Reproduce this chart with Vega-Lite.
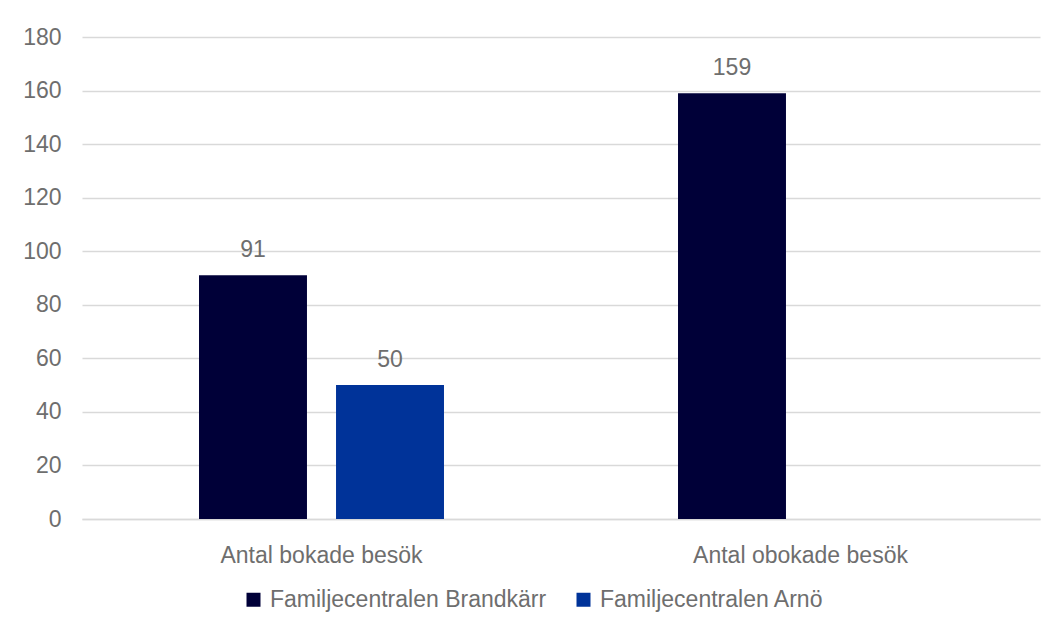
{
  "$schema": "https://vega.github.io/schema/vega-lite/v6.json",
  "width": 958,
  "height": 482,
  "autosize": {"type": "none"},
  "padding": {"left": 82, "top": 37, "right": 16, "bottom": 102},
  "background": "white",
  "config": {
    "font": "Liberation Sans",
    "view": {"stroke": null},
    "axis": {"labelFont": "Liberation Sans", "labelColor": "#6e6e6e", "labelFontSize": 23, "labelLimit": 600}
  },
  "data": {
    "values": [
      {"kategori": "Antal bokade besök", "enhet": "Familjecentralen Brandkärr", "antal": 91},
      {"kategori": "Antal bokade besök", "enhet": "Familjecentralen Arnö", "antal": 50},
      {"kategori": "Antal obokade besök", "enhet": "Familjecentralen Brandkärr", "antal": 159}
    ]
  },
  "encoding": {
    "x": {
      "field": "kategori", "type": "nominal",
      "scale": {"paddingInner": 0, "paddingOuter": 0},
      "axis": {"title": null, "labelAngle": 0, "ticks": false, "labelPadding": 25, "domainColor": "#d9d9d9", "domainWidth": 1.3, "grid": false}
    },
    "xOffset": {
      "field": "enhet", "type": "nominal",
      "scale": {"domain": ["Familjecentralen Brandkärr", "Familjecentralen Arnö"], "paddingInner": 0.212, "paddingOuter": 0.854}
    },
    "y": {
      "field": "antal", "type": "quantitative",
      "scale": {"domain": [0, 180]},
      "axis": {"title": null, "values": [0, 20, 40, 60, 80, 100, 120, 140, 160, 180], "ticks": false, "domain": false, "labelPadding": 21, "gridColor": "#d9d9d9", "gridWidth": 1.3}
    }
  },
  "layer": [
    {
      "mark": {"type": "bar"},
      "encoding": {
        "color": {
          "field": "enhet", "type": "nominal",
          "scale": {"domain": ["Familjecentralen Brandkärr", "Familjecentralen Arnö"], "range": ["#000038", "#003399"]},
          "legend": {
            "title": null,
            "orient": "none",
            "direction": "horizontal",
            "legendX": 160,
            "legendY": 551,
            "padding": 0,
            "symbolType": "square",
            "symbolSize": 196,
            "symbolStrokeWidth": 0,
            "symbolOpacity": 1,
            "labelFont": "Liberation Sans",
            "labelFontSize": 23,
            "labelColor": "#6e6e6e",
            "labelOffset": 5,
            "columnPadding": 25,
            "labelLimit": 600
          }
        }
      }
    },
    {
      "mark": {"type": "text", "baseline": "alphabetic", "dy": -18, "fontSize": 23, "color": "#6e6e6e", "font": "Liberation Sans"},
      "encoding": {"text": {"field": "antal", "type": "quantitative"}}
    }
  ]
}
